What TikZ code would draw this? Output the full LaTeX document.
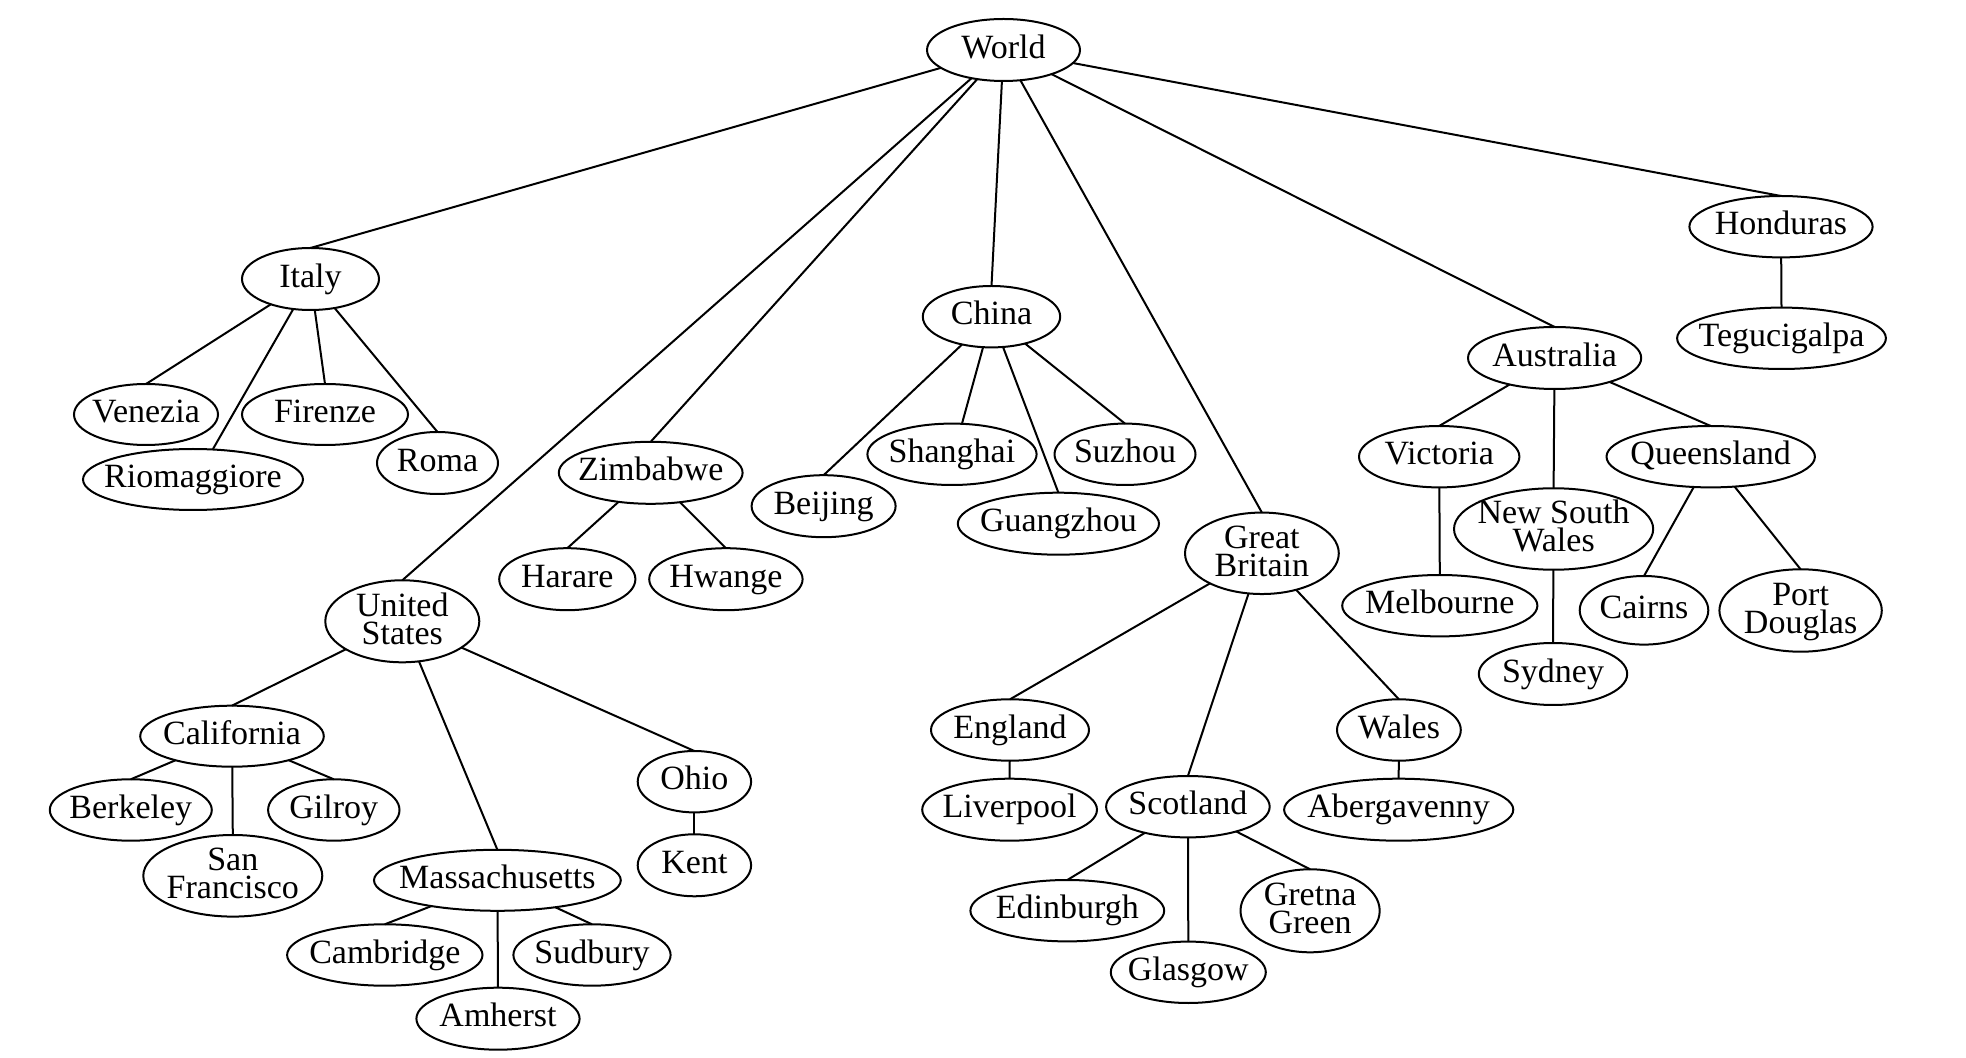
\documentclass[tikz,border=0pt]{standalone}
\usepackage{fontspec}
\setmainfont{Liberation Serif}
\usetikzlibrary{shapes.geometric}
\newcommand\one[1]{\makebox[0pt]{\rule[-0.22em]{0pt}{0.92em}#1}}
\newcommand\two[2]{\makebox[0pt]{\vbox{\baselineskip=14pt\lineskiplimit=-100pt
  \hbox to 0pt{\hss\rule{0pt}{0.7em}\smash{#1}\hss}%
  \hbox to 0pt{\hss\rule[-2.9pt]{0pt}{2.9pt}\smash{#2}\hss}}}}
\tikzset{
  city/.style={draw, ellipse, inner sep=0pt, outer sep=0pt, line width=1pt,
    font=\fontsize{17}{14}\selectfont},
  edge/.style={line width=1pt},
}
\newcommand\place[5]{\node[city, minimum width=#3 pt, minimum height=#4 pt] (#1) at (#2) {#5};}
\begin{document}
\begin{tikzpicture}[x=0.5pt,y=-0.5pt]
\useasboundingbox (0,0) rectangle (1966,1058);
% level 0
\place{world}{1003.5,50}{76.5}{31}{\one{World}}
% Italy
\place{italy}{310.5,279}{68.5}{31}{\one{Italy}}
\place{venezia}{146,414.5}{72}{30.5}{\one{Venezia}}
\place{firenze}{325,414.5}{83}{30.5}{\one{Firenze}}
\place{rio}{193,479.5}{110}{30.5}{\one{Riomaggiore}}
\place{roma}{437.5,463}{60.5}{31}{\one{Roma}}
% Zimbabwe
\place{zimbabwe}{650.7,472.8}{91.9}{31}{\one{Zimbabwe}}
\place{harare}{567.3,579.2}{68.1}{31}{\one{Harare}}
\place{hwange}{725.9,579.2}{76.7}{31}{\one{Hwange}}
% United States
\place{us}{402.3,621.3}{77}{41}{\two{United}{States}}
\place{california}{232,736.2}{91.8}{30.5}{\one{California}}
\place{berkeley}{130.8,810}{81}{30.7}{\one{Berkeley}}
\place{gilroy}{333.8,810}{65.7}{30.7}{\one{Gilroy}}
\place{sf}{232.8,875.8}{89.5}{40.8}{\two{San}{Francisco}}
\place{mass}{497.4,880.3}{123.4}{30.5}{\one{Massachusetts}}
\place{ohio}{694.4,781.7}{56.7}{30.7}{\one{Ohio}}
\place{kent}{694.4,865.3}{56.7}{31}{\one{Kent}}
\place{cambridge}{384.8,955}{97.7}{30.7}{\one{Cambridge}}
\place{sudbury}{592,955}{78.6}{30.7}{\one{Sudbury}}
\place{amherst}{498,1018.7}{81.6}{31}{\one{Amherst}}
% China
\place{china}{991.5,316.7}{68.7}{30.7}{\one{China}}
\place{beijing}{823.6,506.2}{72}{31}{\one{Beijing}}
\place{shanghai}{952,454.3}{84.6}{30.7}{\one{Shanghai}}
\place{suzhou}{1125,454.3}{70.5}{30.7}{\one{Suzhou}}
\place{guangzhou}{1058.4,523.7}{100.6}{31}{\one{Guangzhou}}
% Great Britain
\place{gb}{1261.9,553.3}{76.9}{40.7}{\two{Great}{Britain}}
\place{england}{1010,730}{79}{30.7}{\one{England}}
\place{liverpool}{1009.6,809.7}{87.4}{31}{\one{Liverpool}}
\place{scotland}{1187.9,806.7}{81.8}{30.7}{\one{Scotland}}
\place{wales}{1398.9,730}{61.9}{30.7}{\one{Wales}}
\place{abergavenny}{1398.7,809.7}{114.6}{31}{\one{Abergavenny}}
\place{edinburgh}{1067.3,910.7}{96.9}{30.7}{\one{Edinburgh}}
\place{glasgow}{1188.3,972.3}{77.5}{30.7}{\one{Glasgow}}
\place{gretna}{1310.1,910.8}{69.6}{41.5}{\two{Gretna}{Green}}
% Australia
\place{australia}{1554.6,358}{86.6}{31}{\one{Australia}}
\place{victoria}{1439.2,456.7}{80.2}{30.7}{\one{Victoria}}
\place{nsw}{1553.6,529}{99.6}{40.7}{\two{New South}{Wales}}
\place{queensland}{1710.7,456.7}{104.2}{30.7}{\one{Queensland}}
\place{melbourne}{1439.8,605.7}{97.6}{30.7}{\one{Melbourne}}
\place{cairns}{1644,610.3}{64.3}{34.3}{\one{Cairns}}
\place{portdouglas}{1800.6,610.5}{81.2}{41.2}{\two{Port}{Douglas}}
\place{sydney}{1553,674}{74.2}{31}{\one{Sydney}}
% Honduras
\place{honduras}{1781,226.7}{91.6}{30.7}{\one{Honduras}}
\place{tegucigalpa}{1781.5,338.3}{104.4}{30.7}{\one{Tegucigalpa}}
% edges
\draw[edge] (world) -- (italy.north);
\draw[edge] (world) -- (us.north);
\draw[edge] (world) -- (zimbabwe.north);
\draw[edge] (world) -- (china.north);
\draw[edge] (world) -- (gb.north);
\draw[edge] (world) -- (australia.north);
\draw[edge] (world) -- (honduras.north);
\draw[edge] (italy) -- (venezia.north);
\draw[edge] (italy) -- ([xshift=10pt]rio.north);
\draw[edge] (italy) -- (firenze.north);
\draw[edge] (italy) -- (roma.north);
\draw[edge] (zimbabwe) -- (harare.north);
\draw[edge] (zimbabwe) -- (hwange.north);
\draw[edge] (us) -- (california.north);
\draw[edge] (us) -- (mass.north);
\draw[edge] (us) -- (ohio.north);
\draw[edge] (california) -- (berkeley.north);
\draw[edge] (california) -- (sf.north);
\draw[edge] (california) -- (gilroy.north);
\draw[edge] (ohio) -- (kent.north);
\draw[edge] (mass) -- (cambridge.north);
\draw[edge] (mass) -- (amherst.north);
\draw[edge] (mass) -- (sudbury.north);
\draw[edge] (china) -- (beijing.north);
\draw[edge] (china) -- ([xshift=5pt]shanghai.north);
\draw[edge] (china) -- (guangzhou.north);
\draw[edge] (china) -- (suzhou.north);
\draw[edge] (gb) -- (england.north);
\draw[edge] (gb) -- (scotland.north);
\draw[edge] (gb) -- (wales.north);
\draw[edge] (england) -- (liverpool.north);
\draw[edge] (wales) -- (abergavenny.north);
\draw[edge] (scotland) -- (edinburgh.north);
\draw[edge] (scotland) -- (glasgow.north);
\draw[edge] (scotland) -- (gretna.north);
\draw[edge] (australia) -- (victoria.north);
\draw[edge] (australia) -- (nsw.north);
\draw[edge] (australia) -- (queensland.north);
\draw[edge] (victoria) -- (melbourne.north);
\draw[edge] (nsw) -- (sydney.north);
\draw[edge] (queensland) -- (cairns.north);
\draw[edge] (queensland) -- (portdouglas.north);
\draw[edge] (honduras) -- (tegucigalpa.north);
\end{tikzpicture}
\end{document}
